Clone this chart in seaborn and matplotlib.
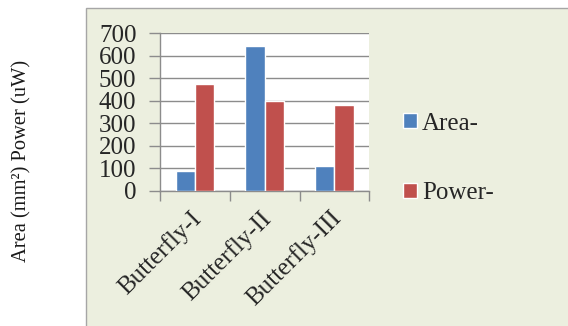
import pandas as pd
import seaborn as sns
import matplotlib.pyplot as plt
import matplotlib.transforms as mtransforms
from matplotlib.patches import Rectangle

# values
categories = ["Butterfly-I", "Butterfly-II", "Butterfly-III"]
area_vals = [87, 645, 108]
power_vals = [473, 400, 380]
series_names = ["Area-", "Power-"]
y_ticks = [0, 100, 200, 300, 400, 500, 600, 700]

df = pd.DataFrame({
    "design": categories * 2,
    "value": area_vals + power_vals,
    "series": [series_names[0]] * 3 + [series_names[1]] * 3,
})

sns.set_style("white")
plt.rcParams["font.family"] = ["Liberation Serif", "DejaVu Serif"]

fig = plt.figure(figsize=(5.68, 3.26), dpi=100)
fig.patch.set_facecolor("white")

# chart area box (Excel style)
box = Rectangle((86 / 568, -0.01), 1.0, 0.9755 + 0.01,
                transform=fig.transFigure, facecolor="#ECEFDF",
                edgecolor="#A6A6A6", linewidth=1.0, zorder=-5)
fig.patches.append(box)

ax = fig.add_axes([0.2817, 0.415, 0.3685, 0.483])
ax.set_zorder(2)
ax.set_facecolor("white")

sns.barplot(data=df, x="design", y="value", hue="series", order=categories,
            palette=["#4F81BD", "#C0504D"], width=0.55, gap=0,
            saturation=1, ax=ax, legend=False, zorder=3)

ax.set_ylim(0, 700)
ax.set_xlim(-0.5, 2.5)
ax.set_yticks(y_ticks)
ax.yaxis.grid(True, color="#8C8C8C", linewidth=1.0, zorder=0)
ax.set_axisbelow(True)
for s in ["top", "right"]:
    ax.spines[s].set_visible(False)
for s in ["left", "bottom"]:
    ax.spines[s].set_color("#8C8C8C")
    ax.spines[s].set_linewidth(1.0)

ax.tick_params(axis="y", which="both", left=True, length=8, width=1.0,
               color="#8C8C8C", labelsize=18, pad=9)
ax.set_yticklabels([str(t) for t in y_ticks], fontsize=18)

# category boundary ticks
ax.set_xticks([-0.5, 0.5, 1.5, 2.5], minor=False)
ax.set_xticklabels([])
ax.tick_params(axis="x", which="major", bottom=True, length=7, width=1.0,
               color="#8C8C8C")
ax.set_xticks([0, 1, 2], minor=True)
ax.set_xticklabels(categories, minor=True, rotation=45, ha="right",
                   rotation_mode="anchor", fontsize=18)
ax.tick_params(axis="x", which="minor", bottom=False, length=0, pad=10)
shift = mtransforms.ScaledTranslation(-5 / 100, -2 / 100, fig.dpi_scale_trans)
for lab in ax.get_xticklabels(minor=True):
    lab.set_transform(lab.get_transform() + shift)

ax.set_xlabel("")
ax.set_ylabel("")
fig.text(22 / 568, 1 - 161 / 326, "Area (mm²) Power (uW)", rotation=90,
         ha="center", va="center", fontsize=14.8, color="#1a1a1a")

handles = [Rectangle((0, 0), 1, 1, facecolor=c) for c in ["#4F81BD", "#C0504D"]]
fig.legend(handles, series_names, loc="center left",
           bbox_to_anchor=(403 / 568, 1 - 158.5 / 326), frameon=False,
           fontsize=18, handlelength=0.55, handleheight=0.55,
           handletextpad=0.2, labelspacing=1.9, borderpad=0,
           borderaxespad=0)

fig.savefig("out.png", dpi=100)
